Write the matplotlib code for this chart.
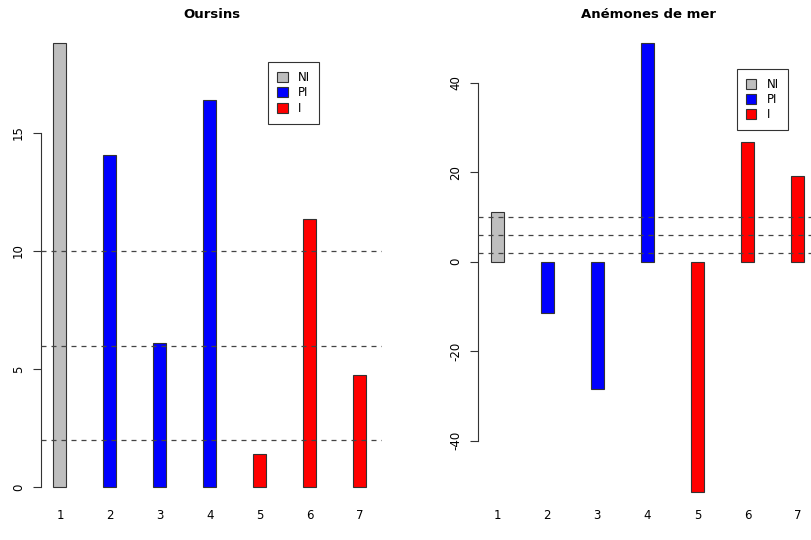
import matplotlib
matplotlib.use("Agg")
import matplotlib.pyplot as plt
from matplotlib.patches import Patch

# data
sites = [1, 2, 3, 4, 5, 6, 7]
groups = ["NI", "PI", "PI", "PI", "I", "I", "I"]
oursins = [18.8, 14.05, 6.1, 16.4, 1.42, 11.35, 4.76]
anemones = [11.1, -11.5, -28.5, 48.9, -51.4, 26.8, 19.2]
seuils = [2, 6, 10]

couleurs = {"NI": "#BEBEBE", "PI": "#0000FF", "I": "#FF0000"}
legend_names = ["NI", "PI", "I"]


def panel(ax, values, title, ylim, yticks, leg_xy):
    cols = [couleurs[g] for g in groups]
    ax.bar(sites, values, width=0.26, color=cols, edgecolor="#333333",
           linewidth=0.8, zorder=2)
    for s in seuils:
        ax.axhline(s, color="#444444", lw=0.9, ls=(0, (4, 4)), zorder=3)
    ax.set_xlim(0.62, 7.44)
    ax.set_ylim(*ylim)
    ax.set_title(title, fontsize=9.5, fontweight="bold", pad=5)
    for sp in ["top", "right", "bottom"]:
        ax.spines[sp].set_visible(False)
    ax.spines["left"].set_bounds(yticks[0], yticks[-1])
    ax.spines["left"].set_color("#333333")
    ax.spines["left"].set_linewidth(0.8)
    ax.set_yticks(yticks)
    ax.set_yticklabels([str(t) for t in yticks], rotation=90, va="center")
    ax.tick_params(axis="y", length=5.5, width=0.8, color="#333333",
                   labelsize=8.5, pad=6)
    ax.set_xticks(sites)
    ax.tick_params(axis="x", length=0, labelsize=8.5, pad=1.5)
    handles = [Patch(facecolor=couleurs[n], edgecolor="#333333", lw=0.8)
               for n in legend_names]
    leg = ax.legend(handles, legend_names, loc="upper left",
                    bbox_to_anchor=leg_xy, fontsize=8.5, frameon=True,
                    fancybox=False, handlelength=0.9, handleheight=0.9,
                    handletextpad=0.9, labelspacing=0.2, borderpad=0.75,
                    borderaxespad=0)
    leg.get_frame().set_edgecolor("black")
    leg.get_frame().set_linewidth(0.8)


fig = plt.figure(figsize=(8.12, 5.4), dpi=100)
ax1 = fig.add_axes([41 / 812, 1 - 507 / 540, 341 / 812, 482 / 540])
ax2 = fig.add_axes([478 / 812, 1 - 507 / 540, 342 / 812, 482 / 540])

panel(ax1, oursins, "Oursins", (-0.83, 19.56), [0, 5, 10, 15], (0.666, 0.923))
panel(ax2, anemones, "Anémones de mer", (-54.8, 52.9), [-40, -20, 0, 20, 40],
      (0.757, 0.909))

fig.savefig("out.png", dpi=100)
